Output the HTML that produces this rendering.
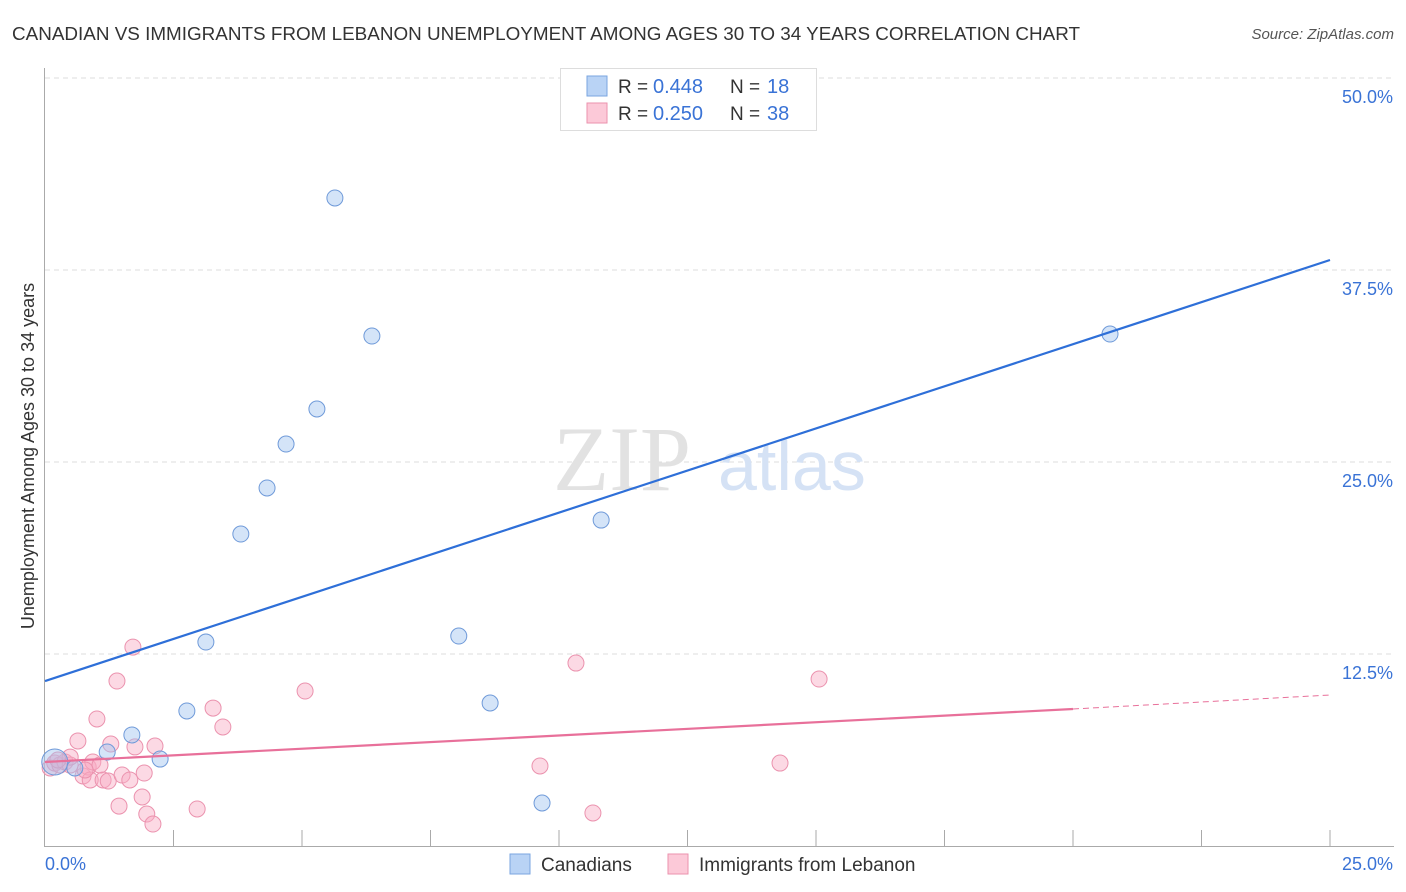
<!DOCTYPE html>
<html><head><meta charset="utf-8"><style>
body{margin:0;background:#fff;font-family:"Liberation Sans",sans-serif;}
svg{display:block}
</style></head><body>
<svg id="chart" width="1406" height="892" xmlns="http://www.w3.org/2000/svg"></svg>
<script>
const blueX=[0.19,0.58,1.21,1.69,2.24,2.76,3.13,3.81,4.32,4.69,5.29,5.64,6.36,8.05,8.66,9.67,10.82,20.72];
const blueY=[5.47,5.08,6.12,7.23,5.66,8.79,13.28,20.31,23.31,26.17,28.45,42.19,33.2,13.67,9.31,2.8,21.22,33.33];
const pinkX=[0.1,0.19,0.29,0.39,0.49,0.64,0.74,0.84,0.88,0.93,1.01,1.13,1.23,1.28,1.4,1.44,1.5,1.71,1.75,1.89,1.93,1.98,2.1,2.14,2.96,3.27,3.46,5.06,9.63,10.33,10.66,14.3,15.06,1.07,0.49,0.78,0.25,1.65];
const pinkY=[5.08,5.4,5.27,5.47,5.27,6.84,4.56,5.14,4.3,5.47,8.27,4.3,4.23,6.64,10.74,2.6,4.62,12.95,6.45,3.19,4.75,2.08,1.43,6.51,2.41,8.98,7.75,10.09,5.21,11.91,2.15,5.4,10.87,5.27,5.79,4.95,5.6,4.3];
const blueLine=[10.74,38.15];
const pinkLine=[5.47,8.92,9.83];
const yTicks=[12.5,25,37.5,50];
const yTickLabels=["12.5%","25.0%","37.5%","50.0%"];

const NS="http://www.w3.org/2000/svg";
const svg=document.getElementById('chart');
const X=v=>45+v/25*1285;
const Y=v=>846-v/12.5*192;
function el(tag,attrs,parent){const e=document.createElementNS(NS,tag);for(const k in attrs)e.setAttribute(k,attrs[k]);(parent||svg).appendChild(e);return e;}

let t=el('text',{x:12,y:40,'font-size':18,fill:'#333',textLength:1068,lengthAdjust:'spacingAndGlyphs'});


t.textContent="CANADIAN VS IMMIGRANTS FROM LEBANON UNEMPLOYMENT AMONG AGES 30 TO 34 YEARS CORRELATION CHART";
t=el('text',{x:1394,y:39,'font-size':15,fill:'#555','font-style':'italic','text-anchor':'end'});


t.textContent="Source: ZipAtlas.com";

yTicks.forEach((v,i)=>{
  const g=el('line',{x1:45,x2:1394,y1:Y(v),y2:Y(v),stroke:'#ddd','stroke-dasharray':'5,4'});
  
  
  const l=el('text',{x:1393,y:Y(v)+25,'font-size':18,fill:'#3a73d6','text-anchor':'end'});
  
  
  l.textContent=yTickLabels[i];
});
t=el('text',{x:553,y:490,'font-size':92,fill:'#e2e2e2','font-family':'Liberation Serif, serif'});


t.textContent="ZIP";
t=el('text',{x:718,y:490,'font-size':70,fill:'#d5e2f5'});


t.textContent="atlas";

let a=el('line',{x1:44.5,x2:44.5,y1:68,y2:846,stroke:'#aaa'});


a=el('line',{x1:44,x2:1394,y1:846.5,y2:846.5,stroke:'#aaa'});


for(let i=1;i<=10;i++){
  const tk=el('line',{x1:X(i*2.5),x2:X(i*2.5),y1:830,y2:846,stroke:'#aaa'});
  
  
}
t=el('text',{x:45,y:870,'font-size':18,fill:'#3a73d6'});


t.textContent="0.0%";
t=el('text',{x:1393,y:870,'font-size':18,fill:'#3a73d6','text-anchor':'end'});


t.textContent="25.0%";
t=el('text',{x:0,y:0,'font-size':18,fill:'#333','text-anchor':'middle',transform:'translate(34,456) rotate(-90)'});


t.textContent="Unemployment Among Ages 30 to 34 years";

pinkX.forEach((x,i)=>{
  const c=el('circle',{cx:X(x),cy:Y(pinkY[i]),r:8,fill:'rgba(248,170,195,0.45)',stroke:'#eb92ae','stroke-width':1});
  
  
});
blueX.forEach((x,i)=>{
  const c=el('circle',{cx:X(x),cy:Y(blueY[i]),r:i===0?13:8,fill:'rgba(160,195,240,0.45)',stroke:'#6f9ad9','stroke-width':1});
  
  
});
let ln=el('line',{x1:X(0),y1:Y(blueLine[0]),x2:X(25),y2:Y(blueLine[1]),stroke:'#2e6fd8','stroke-width':2.2});


ln=el('line',{x1:X(0),y1:Y(pinkLine[0]),x2:X(20),y2:Y(pinkLine[1]),stroke:'#e8709a','stroke-width':2.2});


ln=el('line',{x1:X(20),y1:Y(pinkLine[1]),x2:X(25),y2:Y(pinkLine[2]),stroke:'#e8709a','stroke-width':1,'stroke-dasharray':'6,4'});



const lg=el('g',{});


el('rect',{x:560.5,y:68.5,width:256,height:62,fill:'#fff',stroke:'#ddd'},lg);
[[0,'0.448','18','#b9d3f5','#7aa6e0'],[1,'0.250','38','#fcc9d8','#eb92ae']].forEach(([i,r,n,f,s])=>{
  const yy=86+i*27;
  const sw=el('rect',{x:587,y:yy-10,width:20,height:20,fill:f,stroke:s},lg);
  
  
  const t1=el('text',{x:618,y:yy+7,'font-size':19,fill:'#333'},lg);
  
  
  t1.textContent='R =';
  const t2=el('text',{x:653,y:yy+7,'font-size':20,fill:'#3a73d6'},lg);
  
  
  t2.textContent=r;
  const t3=el('text',{x:730,y:yy+7,'font-size':19,fill:'#333'},lg);
  
  
  t3.textContent='N =';
  const t4=el('text',{x:767,y:yy+7,'font-size':20,fill:'#3a73d6'},lg);
  
  
  t4.textContent=n;
});

[[510,'Canadians','#b9d3f5','#7aa6e0'],[668,'Immigrants from Lebanon','#fcc9d8','#eb92ae']].forEach(([x,lab,f,s])=>{
  const sw=el('rect',{x:x,y:854,width:20,height:20,fill:f,stroke:s});
  
  
  const tx=el('text',{x:x+31,y:871,'font-size':19,fill:'#333'});
  
  
  tx.textContent=lab;
});
</script>
</body></html>
